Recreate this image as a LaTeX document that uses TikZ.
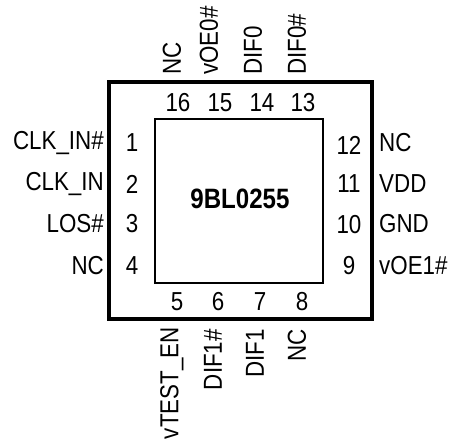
\documentclass[tikz,border=0pt]{standalone}
\usepackage{fontspec}
\setmainfont{Liberation Sans}[FakeStretch=0.86]
\usetikzlibrary{positioning}

\begin{document}
\begin{tikzpicture}[x=1pt,y=-1pt,
  pinnum/.style={inner sep=0pt,font=\fontsize{26}{31}\selectfont},
  pinname/.style={inner sep=0pt,font=\fontsize{26}{31}\selectfont},
  topname/.style={pinname,rotate=90,anchor=west},
  botname/.style={pinname,rotate=90,anchor=east}]
\useasboundingbox (0,0) rectangle (450,441);

% package outline and die
\draw[line width=4pt] (109,82) rectangle (372,319);
\draw[line width=2pt] (155,119) rectangle (323,283);
\node[font=\fontsize{28}{33}\selectfont\bfseries] (part) at (240,199) {9BL0255};

% left side
\node[pinnum] (n1) at (132,143) {1};
\node[pinnum] (n2) at (132,184) {2};
\node[pinnum] (n3) at (132,224) {3};
\node[pinnum] (n4) at (132,266) {4};
\node[pinname,anchor=east] (s1) at (104,143) {CLK\_IN\#};
\node[pinname,anchor=east] (s2) at (104,184) {CLK\_IN};
\node[pinname,anchor=east] (s3) at (104,224) {LOS\#};
\node[pinname,anchor=east] (s4) at (104,266) {NC};

% right side
\node[pinnum] (n12) at (349,145) {12};
\node[pinnum] (n11) at (349,184) {11};
\node[pinnum] (n10) at (349,225) {10};
\node[pinnum] (n9) at (349,266) {9};
\node[pinname,anchor=west] (s12) at (379,143) {NC};
\node[pinname,anchor=west] (s11) at (379,184) {VDD};
\node[pinname,anchor=west] (s10) at (379,224) {GND};
\node[pinname,anchor=west] (s9) at (379,266) {vOE1\#};

% top side
\node[pinnum] (n16) at (178,103) {16};
\node[pinnum] (n15) at (220,103) {15};
\node[pinnum] (n14) at (262,103) {14};
\node[pinnum] (n13) at (303,103) {13};
\node[topname] (s16) at (172,75) {NC};
\node[topname] (s15) at (209,75) {vOE0\#};
\node[topname] (s14) at (253,75) {DIF0};
\node[topname] (s13) at (297,75) {DIF0\#};

% bottom side
\node[pinnum] (n5) at (177,302) {5};
\node[pinnum] (n6) at (218,302) {6};
\node[pinnum] (n7) at (260,302) {7};
\node[pinnum] (n8) at (302,302) {8};
\node[botname] (s5) at (172,327) {vTEST\_EN};
\node[botname] (s6) at (213,329) {DIF1\#};
\node[botname] (s7) at (255,329) {DIF1};
\node[botname] (s8) at (297,329) {NC};
\end{tikzpicture}
\end{document}
